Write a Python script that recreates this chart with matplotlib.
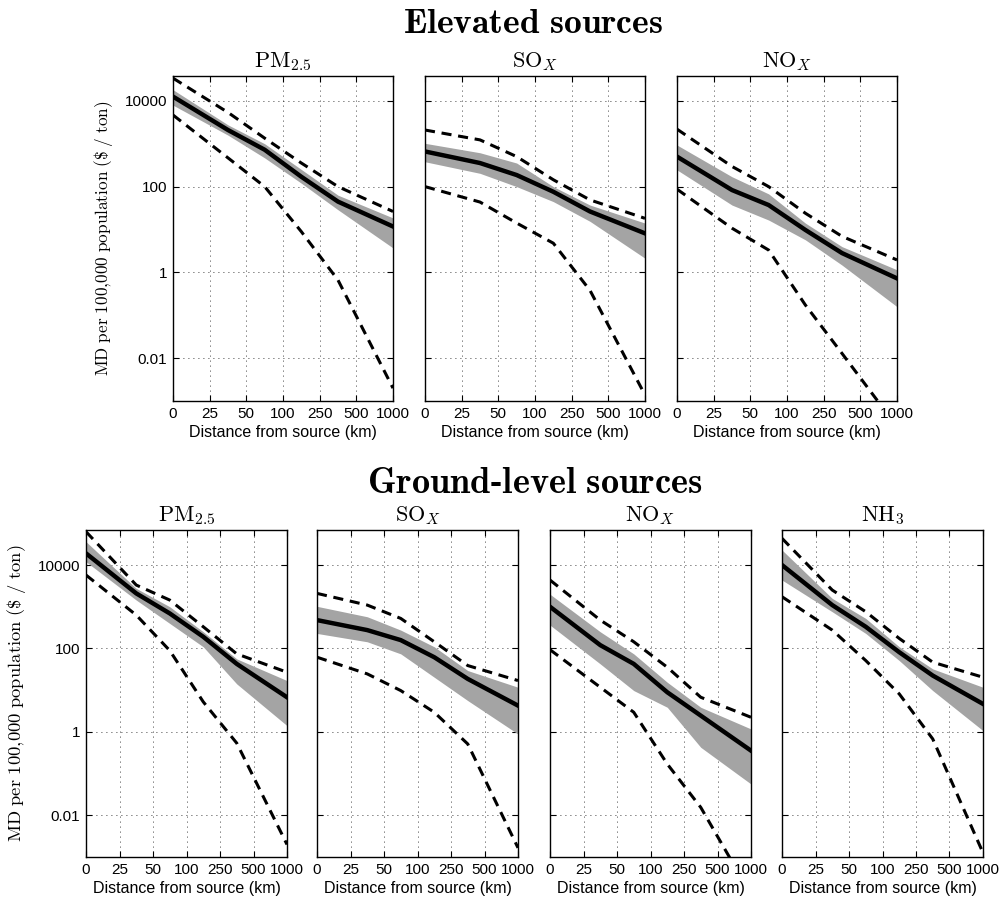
import matplotlib
matplotlib.use("Agg")
import matplotlib.pyplot as plt
import numpy as np

DIST_LABELS = ["0", "25", "50", "100", "250", "500", "1000"]
BIN_POS = [0, 1.5, 2.5, 3.5, 4.5, 6]  # where each distance bin sits on the tick axis
Y_TICKS = [0.01, 1, 100, 10000]
Y_TICK_LABELS = ["0.01", "1", "100", "10000"]

# all values are log10(MD per 100,000 population, $/ton)
# mean = thick line, band_lo/band_hi = grey band, dash_lo/dash_hi = dashed bounds

# elevated sources
EL_PM_MEAN = [4.10, 3.32, 2.86, 2.23, 1.65, 1.07]
EL_PM_BAND_LO = [3.90, 3.20, 2.67, 2.08, 1.46, 0.57]
EL_PM_BAND_HI = [4.26, 3.44, 3.00, 2.40, 1.80, 1.27]
EL_PM_DASH_LO = [3.67, 2.67, 2.00, 0.95, -0.18, -2.70]
EL_PM_DASH_HI = [4.53, 3.73, 3.13, 2.55, 2.00, 1.42]

EL_SO_MEAN = [2.82, 2.55, 2.27, 1.88, 1.42, 0.91]
EL_SO_BAND_LO = [2.58, 2.31, 2.00, 1.65, 1.19, 0.33]
EL_SO_BAND_HI = [3.01, 2.79, 2.55, 2.00, 1.57, 1.15]
EL_SO_DASH_LO = [2.00, 1.64, 1.15, 0.68, -0.42, -2.86]
EL_SO_DASH_HI = [3.32, 3.09, 2.70, 2.16, 1.69, 1.26]

EL_NO_MEAN = [2.70, 1.92, 1.57, 0.99, 0.45, -0.14]
EL_NO_BAND_LO = [2.39, 1.57, 1.22, 0.76, 0.17, -0.80]
EL_NO_BAND_HI = [2.97, 2.23, 1.83, 1.15, 0.60, 0.06]
EL_NO_DASH_LO = [1.94, 1.03, 0.52, -0.76, -1.89, -3.60]
EL_NO_DASH_HI = [3.34, 2.47, 2.00, 1.38, 0.84, 0.29]

# ground-level sources
GR_PM_MEAN = [4.28, 3.32, 2.84, 2.28, 1.63, 0.83]
GR_PM_BAND_LO = [4.08, 3.16, 2.60, 2.04, 1.15, 0.15]
GR_PM_BAND_HI = [4.56, 3.44, 3.00, 2.40, 1.75, 1.23]
GR_PM_DASH_LO = [3.76, 2.80, 1.95, 0.72, -0.27, -2.70]
GR_PM_DASH_HI = [4.80, 3.52, 3.16, 2.52, 1.87, 1.43]

GR_SO_MEAN = [2.68, 2.44, 2.20, 1.79, 1.27, 0.63]
GR_SO_BAND_LO = [2.36, 2.16, 1.87, 1.31, 0.75, -0.05]
GR_SO_BAND_HI = [3.01, 2.76, 2.44, 2.04, 1.47, 1.07]
GR_SO_DASH_LO = [1.79, 1.39, 0.99, 0.47, -0.29, -2.78]
GR_SO_DASH_HI = [3.32, 3.04, 2.72, 2.16, 1.59, 1.23]

GR_NO_MEAN = [3.00, 2.08, 1.63, 0.95, 0.39, -0.45]
GR_NO_BAND_LO = [2.56, 1.63, 0.99, 0.59, -0.37, -1.25]
GR_NO_BAND_HI = [3.30, 2.40, 1.87, 1.19, 0.59, 0.07]
GR_NO_DASH_LO = [1.97, 1.07, 0.47, -0.77, -1.81, -3.90]
GR_NO_DASH_HI = [3.64, 2.68, 2.16, 1.55, 0.83, 0.35]

GR_NH_MEAN = [4.00, 3.04, 2.52, 1.91, 1.35, 0.67]
GR_NH_BAND_LO = [3.64, 2.88, 2.36, 1.71, 0.99, 0.03]
GR_NH_BAND_HI = [4.36, 3.20, 2.72, 2.04, 1.51, 1.07]
GR_NH_DASH_LO = [3.24, 2.44, 1.71, 0.91, -0.17, -2.90]
GR_NH_DASH_HI = [4.64, 3.40, 2.88, 2.24, 1.67, 1.31]

TITLE_PM = r"$\mathrm{PM}_{2.5}$"
TITLE_SO = r"$\mathrm{SO}_X$"
TITLE_NO = r"$\mathrm{NO}_X$"
TITLE_NH = r"$\mathrm{NH}_3$"

ELEVATED = [
    (TITLE_PM, EL_PM_MEAN, EL_PM_BAND_LO, EL_PM_BAND_HI, EL_PM_DASH_LO, EL_PM_DASH_HI),
    (TITLE_SO, EL_SO_MEAN, EL_SO_BAND_LO, EL_SO_BAND_HI, EL_SO_DASH_LO, EL_SO_DASH_HI),
    (TITLE_NO, EL_NO_MEAN, EL_NO_BAND_LO, EL_NO_BAND_HI, EL_NO_DASH_LO, EL_NO_DASH_HI),
]
GROUND = [
    (TITLE_PM, GR_PM_MEAN, GR_PM_BAND_LO, GR_PM_BAND_HI, GR_PM_DASH_LO, GR_PM_DASH_HI),
    (TITLE_SO, GR_SO_MEAN, GR_SO_BAND_LO, GR_SO_BAND_HI, GR_SO_DASH_LO, GR_SO_DASH_HI),
    (TITLE_NO, GR_NO_MEAN, GR_NO_BAND_LO, GR_NO_BAND_HI, GR_NO_DASH_LO, GR_NO_DASH_HI),
    (TITLE_NH, GR_NH_MEAN, GR_NH_BAND_LO, GR_NH_BAND_HI, GR_NH_DASH_LO, GR_NH_DASH_HI),
]

BAND = "#a4a4a4"
YLABEL = r"$\mathrm{MD\ per\ 100{,}000\ population\ (\$\ /\ ton)}$"

plt.rcParams.update({
    "font.family": ["Liberation Sans", "DejaVu Sans"],
    "mathtext.fontset": "cm",
    "axes.linewidth": 1.0,
})


def draw_panel(ax, spec, ymax, first, ylabel_size):
    title, mean, lo, hi, dlo, dhi = spec
    x = np.array(BIN_POS, dtype=float)
    p = lambda v: 10.0 ** np.array(v)
    ax.fill_between(x, p(lo), p(hi), color=BAND, linewidth=0, zorder=2)
    ax.plot(x, p(dhi), color="black", lw=2.2, ls=(0, (3.3, 2.2)), zorder=3)
    ax.plot(x, p(dlo), color="black", lw=2.2, ls=(0, (3.3, 2.2)), zorder=3)
    ax.plot(x, p(mean), color="black", lw=3.2, zorder=4)

    ax.set_yscale("log")
    ax.set_xlim(0, 6)
    ax.set_ylim(1e-3, ymax)
    ax.set_xticks(range(len(DIST_LABELS)))
    ax.set_xticklabels(DIST_LABELS)
    ax.set_yticks(Y_TICKS)
    ax.yaxis.set_minor_locator(matplotlib.ticker.NullLocator())
    if first:
        ax.set_yticklabels(Y_TICK_LABELS)
        ax.set_ylabel(YLABEL, fontsize=ylabel_size, labelpad=7)
    else:
        ax.set_yticklabels([])
    ax.tick_params(which="both", direction="in", top=True, right=True,
                   labelsize=11, pad=4, length=4)
    ax.grid(True, which="major", ls=(0, (1, 5)), color="black", lw=0.6)
    ax.set_xlabel("Distance from source (km)", fontsize=11.5, labelpad=3)
    ax.set_title(title, fontsize=16, pad=6)


fig = plt.figure(figsize=(10.01, 8.99), dpi=100)

W, H = 1001.0, 899.0
top_lefts = [173, 425, 677]
for i, spec in enumerate(ELEVATED):
    ax = fig.add_axes([top_lefts[i] / W, (H - 401) / H, 220 / W, 325 / H])
    draw_panel(ax, spec, 10 ** 4.58, i == 0, 12.4)

bot_lefts = [86, 317, 550, 782]
for i, spec in enumerate(GROUND):
    ax = fig.add_axes([bot_lefts[i] / W, (H - 857) / H, 201 / W, 327 / H])
    draw_panel(ax, spec, 10 ** 4.84, i == 0, 13.4)

fig.text(533 / W, 1 - 33 / H, r"$\mathbf{Elevated\ sources}$", ha="center",
         va="baseline", fontsize=25.6)
fig.text(535 / W, 1 - 493 / H, r"$\mathbf{Ground}$-$\mathbf{level\ sources}$",
         ha="center", va="baseline", fontsize=26.2, fontweight="bold")

fig.savefig("out.png", dpi=100, facecolor="white")
